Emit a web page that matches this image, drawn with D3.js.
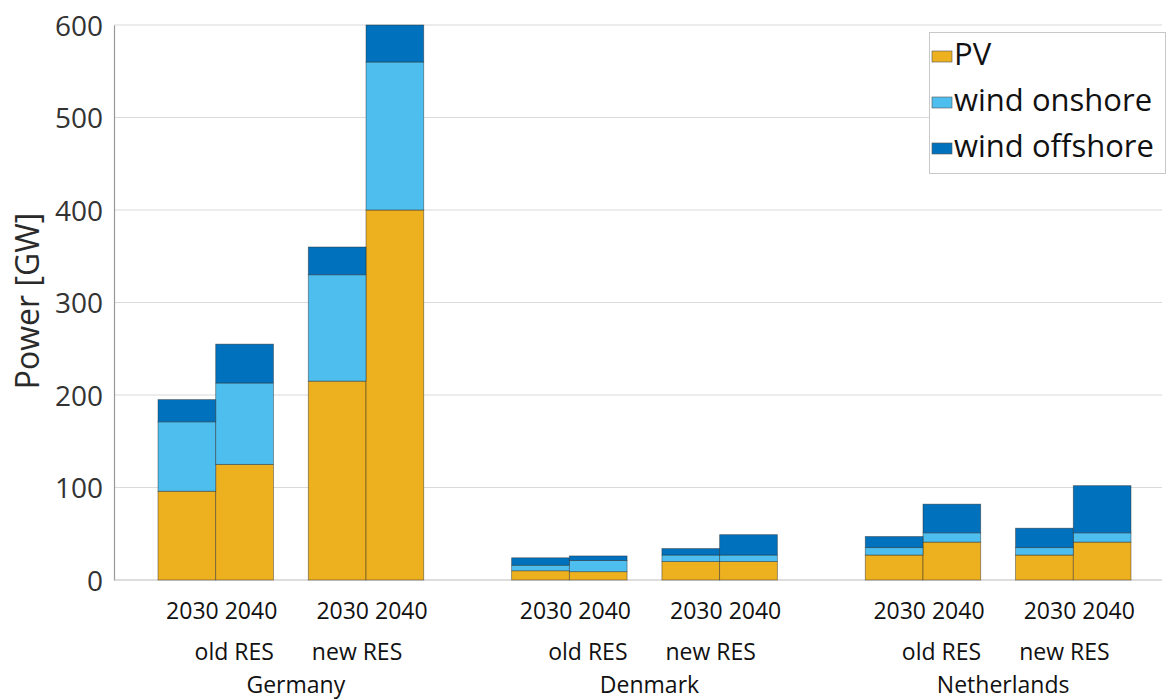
<!DOCTYPE html>
<html><head><meta charset="utf-8">
<script src="https://cdn.jsdelivr.net/npm/d3@7"></script>
<style>body{margin:0;background:#fff}svg{display:block}</style>
</head><body>
<svg id="c" width="1167" height="700"></svg>
<script>
const countries = ["Germany", "Denmark", "Netherlands"];
const scenarios = ["old RES", "new RES"];
const years = ["2030", "2040"];
const series = ["PV", "wind onshore", "wind offshore"];
const colors = ["#EDB120", "#4DBEEE", "#0072BD"];
const yTicks = [0, 100, 200, 300, 400, 500, 600];
// values per country, scenario, year (order: Germany old 2030, old 2040, new 2030, new 2040, ...)
const pv      = [96, 125, 215, 400,   10, 9, 20, 20,    27, 41, 27, 41];
const onshore = [75, 88, 115, 160,     6, 12, 7, 7,      8, 10, 8, 10];
const offshore= [24, 42, 30, 40,       8, 5, 7, 22,      12, 31, 21, 51];

const rows = [];
let k = 0;
countries.forEach(c => scenarios.forEach(s => years.forEach(y => {
  rows.push({country: c, scenario: s, year: y, "PV": pv[k], "wind onshore": onshore[k], "wind offshore": offshore[k]});
  k++;
})));

const svg = d3.select("#c");
const y = d3.scaleLinear().domain([0, 600]).range([580, 25]);
const xC = d3.scaleBand().domain(countries).range([158, 1131]).paddingInner(0.2486).paddingOuter(0);
const xS = d3.scaleBand().domain(scenarios).range([0, xC.bandwidth()]).paddingInner(0.232).paddingOuter(0);
const xY = d3.scaleBand().domain(years).range([0, xS.bandwidth()]).padding(0);
const plotL = 114, plotR = 1162;

// grid
svg.append("g").selectAll("line").data(yTicks.filter(d => d > 0)).join("line")
  .attr("x1", plotL).attr("x2", plotR).attr("y1", d => y(d)).attr("y2", d => y(d))
  .attr("stroke", "#dadada").attr("stroke-width", 1.2);

// y axis
const yAxis = svg.append("g").attr("transform", `translate(${plotL},0)`)
  .call(d3.axisLeft(y).tickValues(yTicks).tickSize(0).tickPadding(11));
yAxis.select(".domain").attr("stroke", "#999").attr("stroke-width", 1.2);
yAxis.selectAll("text").attr("font-family", "Open Sans").attr("font-size", 28).attr("fill", "#333").attr("dy", "0.36em");

// baseline
svg.append("line").attr("x1", plotL).attr("x2", plotR).attr("y1", y(0)).attr("y2", y(0))
  .attr("stroke", "#bbb").attr("stroke-width", 1.2);

// stacked bars
const stack = d3.stack().keys(series)(rows);
const xPos = d => xC(d.country) + xS(d.scenario) + xY(d.year);
svg.append("g").selectAll("g").data(stack).join("g")
  .attr("fill", (d, i) => colors[i])
  .selectAll("rect").data(d => d).join("rect")
  .attr("x", d => xPos(d.data)).attr("width", xY.bandwidth())
  .attr("y", d => y(d[1])).attr("height", d => y(d[0]) - y(d[1]))
  .attr("stroke", "#2a2a2a").attr("stroke-opacity", 0.55).attr("stroke-width", 0.8);

// x labels
const lab = svg.append("g").attr("font-family", "Open Sans").attr("fill", "#111").attr("font-size", 23).attr("text-anchor", "middle");
countries.forEach(c => {
  scenarios.forEach(s => {
    const cx = xC(c) + xS(s) + xS.bandwidth() / 2 + 6;
    lab.append("text").attr("x", cx).attr("y", 619).text(years.join(" "));
  });
  const cc = xC(c) + xC.bandwidth() / 2 + 5;
  lab.append("text").attr("x", cc - 22).attr("y", 660).attr("text-anchor", "end").text(scenarios[0]);
  lab.append("text").attr("x", cc + 16).attr("y", 660).attr("text-anchor", "start").text(scenarios[1]);
  lab.append("text").attr("x", cc).attr("y", 693).text(c);
});

// y label
svg.append("text").attr("transform", "translate(39,301) rotate(-90)")
  .attr("text-anchor", "middle").attr("font-family", "Open Sans").attr("font-size", 32).attr("fill", "#2a2a2a")
  .text("Power [GW]");

// legend
const lg = svg.append("g");
lg.append("rect").attr("x", 929.5).attr("y", 32.5).attr("width", 236).attr("height", 141)
  .attr("fill", "#fff").attr("stroke", "#c8c8c8").attr("stroke-width", 1);
series.forEach((s, i) => {
  const by = 65 + i * 46;
  lg.append("rect").attr("x", 932).attr("y", by - 14).attr("width", 20).attr("height", 11)
    .attr("fill", colors[i]).attr("stroke", "#555").attr("stroke-width", 0.6);
  lg.append("text").attr("x", 954).attr("y", by).attr("font-family", "Open Sans").attr("font-size", 31)
    .attr("fill", "#111").text(s);
});
</script>
</body></html>
